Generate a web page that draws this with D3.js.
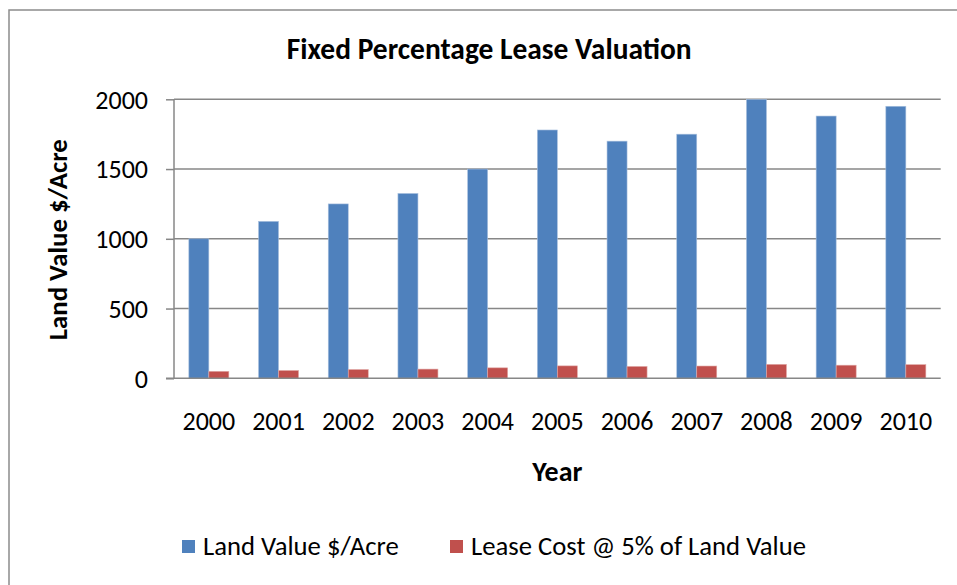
<!DOCTYPE html>
<html>
<head>
<meta charset="utf-8">
<script src="https://cdn.jsdelivr.net/npm/d3@7"></script>
<style>
  html, body { margin: 0; padding: 0; background: #fff; }
  svg { display: block; }
  text { font-family: Carlito, Lato, "Open Sans", sans-serif; fill: #000; }
</style>
</head>
<body>
<svg id="chart" width="957" height="585"></svg>
<script>
const years = ["2000","2001","2002","2003","2004","2005","2006","2007","2008","2009","2010"];
const landValue = [1000, 1125, 1250, 1325, 1500, 1780, 1700, 1750, 2000, 1880, 1950];
const leaseCost = [50, 56, 63, 66, 75, 89, 85, 88, 100, 94, 98];
const yTicks = [0, 500, 1000, 1500, 2000];
const seriesNames = ["Land Value $/Acre", "Lease Cost @ 5% of Land Value"];
const seriesColors = ["#4F81BD", "#C0504D"];

const W = 957, H = 585;
const plot = { left: 174, right: 940.7, top: 99.3, bottom: 378.3 };
const svg = d3.select("#chart");

// outer chart border
svg.append("rect").attr("x", 9).attr("y", 10).attr("width", 1000).attr("height", 1000)
  .attr("fill", "none").attr("stroke", "#8c8c8c").attr("stroke-width", 1.5);

const x = d3.scaleBand().domain(years).range([plot.left, plot.right]).paddingInner(0).paddingOuter(0);
const y = d3.scaleLinear().domain([0, 2000]).range([plot.bottom, plot.top]);
const barW = x.bandwidth() * 0.287;
const sub = d3.scaleBand().domain([0, 1]).range([0, barW * 2]);

// gridlines
const grid = svg.append("g");
grid.selectAll("line").data(yTicks.filter(d => d > 0)).join("line")
  .attr("x1", plot.left).attr("x2", plot.right)
  .attr("y1", d => y(d)).attr("y2", d => y(d))
  .attr("stroke", "#878787").attr("stroke-width", 1.5);

// bars
const data = years.map((yr, i) => ({ yr, vals: [landValue[i], leaseCost[i]] }));
const groups = svg.append("g").selectAll("g").data(data).join("g")
  .attr("transform", d => `translate(${x(d.yr) + (x.bandwidth() - barW * 2) / 2},0)`);
groups.selectAll("rect").data(d => d.vals.map((v, k) => ({ v, k }))).join("rect")
  .attr("x", d => sub(d.k)).attr("width", sub.bandwidth())
  .attr("y", d => y(d.v)).attr("height", d => y(0) - y(d.v))
  .attr("fill", d => seriesColors[d.k])
  .attr("stroke", d => d.k === 0 ? "#a9c0de" : "#e0a8a6").attr("stroke-width", 0.6);

// y axis
const yAxis = svg.append("g").attr("transform", `translate(${plot.left},0)`)
  .call(d3.axisLeft(y).tickValues(yTicks).tickSize(8).tickPadding(18).tickFormat(d3.format("d")));
yAxis.select(".domain").attr("stroke", "#878787").attr("stroke-width", 1.5).attr("d", `M0,${plot.top}V${plot.bottom}`);
yAxis.selectAll(".tick line").attr("stroke", "#878787").attr("stroke-width", 1.5);
yAxis.selectAll(".tick text").attr("font-size", 26).attr("fill", "#000").attr("font-family", null)
  .attr("x", 148 - plot.left).attr("dy", "0.34em");

// x axis
const xAxis = svg.append("g").attr("transform", `translate(0,${plot.bottom})`)
  .call(d3.axisBottom(x).tickSize(0).tickPadding(0));
xAxis.select(".domain").attr("stroke", "#878787").attr("stroke-width", 1.5).attr("d", `M${plot.left - 8},0H${plot.right}`);
xAxis.selectAll(".tick text").attr("font-size", 26).attr("fill", "#000").attr("font-family", null)
  .attr("y", 430 - plot.bottom).attr("dy", 0);

// fit helper
function fit(sel, target) {
  const len = sel.node().getComputedTextLength();
  const fs = parseFloat(sel.attr("font-size"));
  const nf = fs * target / len;
  sel.attr("font-size", nf);
  return nf;
}

// title
const title = svg.append("text").attr("x", 489.2).attr("y", 59.3).attr("text-anchor", "middle")
  .attr("font-weight", "bold").attr("font-size", 24).text("Fixed Percentage Lease Valuation");
fit(title, 405);

// y axis title
const yt = svg.append("text").attr("transform", `translate(67,239.7) rotate(-90)`).attr("text-anchor", "middle")
  .attr("font-weight", "bold").attr("font-size", 22).text("Land Value $/Acre");
fit(yt, 201);

// x axis title
const xt = svg.append("text").attr("x", (plot.left + plot.right) / 2).attr("y", 481).attr("text-anchor", "middle")
  .attr("font-weight", "bold").attr("font-size", 22).text("Year");
fit(xt, 50);

// legend
const legendX = [182, 450];
const lg = svg.append("g").selectAll("g").data(seriesNames).join("g")
  .attr("transform", (d, i) => `translate(${legendX[i]},0)`);
lg.append("rect").attr("x", 0).attr("y", 540).attr("width", 13).attr("height", 13)
  .attr("fill", (d, i) => seriesColors[i]);
const lt = lg.append("text").attr("x", 21).attr("y", 555).attr("font-size", 22.7).text(d => d);
const lfs = fit(d3.select(lt.nodes()[1]), 335);
lt.attr("font-size", lfs);
</script>
</body>
</html>
